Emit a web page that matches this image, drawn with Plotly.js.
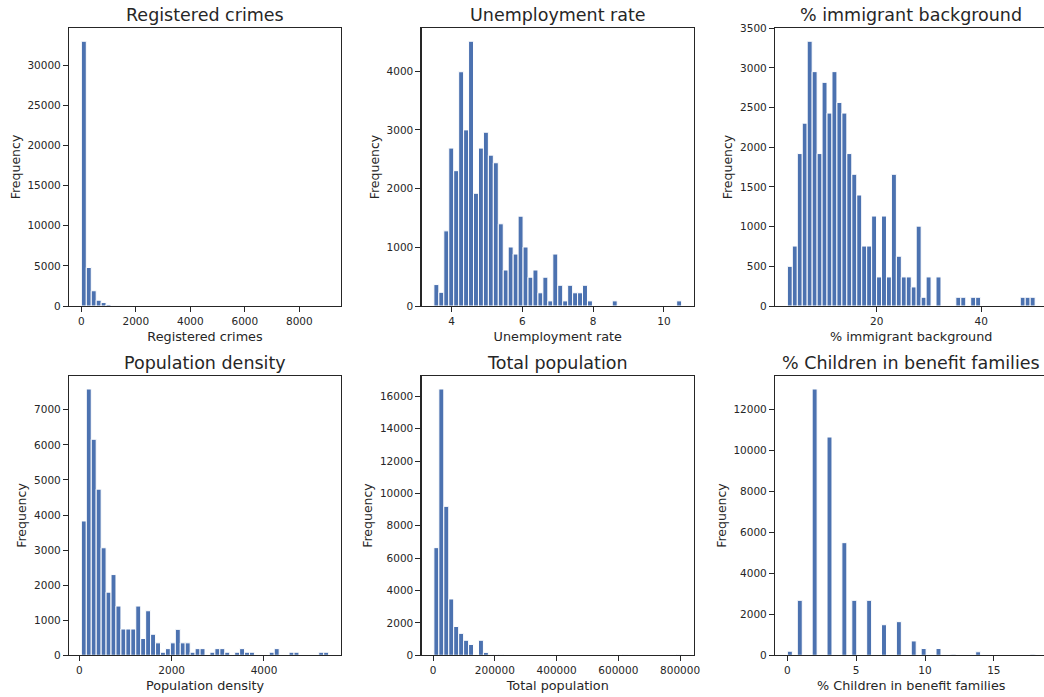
<!DOCTYPE html>
<html>
<head>
<meta charset="utf-8">
<script src="https://cdn.plot.ly/plotly-3.0.1.min.js"></script>
<style>
  html, body { margin: 0; padding: 0; overflow: hidden; background: #ffffff; }
  #chart { width: 1048px; height: 697px; }
</style>
</head>
<body>
<div id="chart"></div>
<script>
// ---------- DATA (50-bin histograms) ----------
const titles = ["Registered crimes", "Unemployment rate", "% immigrant background",
                "Population density", "Total population", "% Children in benefit families"];

// bin range [min, max] of each variable
const crimesRange = [0, 9075];
const unempRange = [3.5, 10.5];
const immigRange = [2.9, 50.3];
const densityRange = [45, 5400];
const popRange = [2500, 805000];
const childRange = [0, 18];

const crimesCounts = [33000, 4800, 1900, 720, 430, 180, 40, 15, 8, 0,
                      0, 5, 0, 0, 0, 0, 0, 0, 0, 0,
                      0, 0, 0, 0, 0, 0, 0, 0, 0, 0,
                      0, 0, 0, 0, 0, 0, 0, 0, 0, 0,
                      0, 0, 0, 0, 0, 0, 0, 0, 0, 1];

const unempCounts = [365, 233, 1280, 2690, 2305, 3990, 3000, 4510, 1920, 2690,
                     2960, 2570, 2440, 1400, 613, 1005, 885, 1530, 1005, 490,
                     613, 225, 490, 87, 885, 353, 87, 353, 225, 225,
                     353, 87, 0, 0, 0, 0, 87, 0, 0, 0,
                     0, 0, 0, 0, 0, 0, 0, 0, 0, 87];

const immigCounts = [500, 755, 1920, 2303, 3335, 2952, 1920, 2817, 2430, 2952,
                     2564, 2430, 1920, 1659, 1398, 755, 755, 1133, 366, 1133,
                     366, 1659, 627, 366, 366, 240, 1006, 110, 366, 0,
                     366, 0, 0, 0, 110, 110, 0, 110, 110, 0,
                     0, 0, 0, 0, 0, 0, 0, 110, 110, 110];

const densityCounts = [3830, 7593, 6160, 4737, 3066, 1800, 2302, 1404, 750, 750,
                       750, 1404, 480, 1270, 600, 355, 87, 190, 355, 740,
                       355, 355, 87, 190, 190, 0, 87, 190, 190, 87,
                       0, 87, 190, 87, 87, 0, 0, 0, 87, 190,
                       0, 0, 87, 87, 0, 0, 0, 0, 87, 87];

const popCounts = [6650, 16450, 9200, 3480, 1780, 1355, 930, 670, 0, 930,
                   180, 45, 45, 45, 0, 0, 0, 0, 0, 0,
                   0, 0, 0, 0, 0, 0, 0, 0, 0, 0,
                   0, 0, 0, 0, 0, 0, 0, 0, 45, 0,
                   0, 0, 0, 0, 0, 0, 0, 0, 0, 45];

const childCounts = [200, 0, 2680, 0, 0, 12980, 0, 0, 10640, 0,
                     0, 5490, 0, 2680, 0, 0, 2680, 0, 0, 1490,
                     0, 0, 1640, 0, 0, 700, 0, 330, 0, 0,
                     330, 0, 0, 50, 0, 0, 0, 0, 170, 0,
                     0, 0, 0, 0, 0, 0, 0, 0, 0, 50];

// tick labels
const crimesXTicks = [0, 2000, 4000, 6000, 8000];
const crimesYTicks = [0, 5000, 10000, 15000, 20000, 25000, 30000];
const unempXTicks = [4, 6, 8, 10];
const unempYTicks = [0, 1000, 2000, 3000, 4000];
const immigXTicks = [20, 40];
const immigYTicks = [0, 500, 1000, 1500, 2000, 2500, 3000, 3500];
const densityXTicks = [0, 2000, 4000];
const densityYTicks = [0, 1000, 2000, 3000, 4000, 5000, 6000, 7000];
const popXTicks = [0, 200000, 400000, 600000, 800000];
const popYTicks = [0, 2000, 4000, 6000, 8000, 10000, 12000, 14000, 16000];
const childXTicks = [0, 5, 10, 15];
const childYTicks = [0, 2000, 4000, 6000, 8000, 10000, 12000];

// ---------- BUILD ----------
const W = 1048, H = 697;
const panels = [
  {range: crimesRange, counts: crimesCounts, xt: crimesXTicks, yt: crimesYTicks},
  {range: unempRange, counts: unempCounts, xt: unempXTicks, yt: unempYTicks},
  {range: immigRange, counts: immigCounts, xt: immigXTicks, yt: immigYTicks},
  {range: densityRange, counts: densityCounts, xt: densityXTicks, yt: densityYTicks},
  {range: popRange, counts: popCounts, xt: popXTicks, yt: popYTicks},
  {range: childRange, counts: childCounts, xt: childXTicks, yt: childYTicks}
];

// pixel boxes of the axes [left, right] and [top, bottom]
const colPx = [[69, 341], [421.5, 694], [775, 1047.5]];
const rowPx = [[28, 306], [375.7, 655.3]];

const ink = '#262626';
const font = 'DejaVu Sans, Liberation Sans, sans-serif';
const traces = [];
const layout = {
  width: W, height: H,
  margin: {l: 0, r: 0, t: 0, b: 0},
  paper_bgcolor: '#ffffff', plot_bgcolor: '#ffffff',
  showlegend: false,
  bargap: 0,
  font: {family: font, color: ink},
  annotations: []
};

panels.forEach((p, k) => {
  const n = p.counts.length;
  const bw = (p.range[1] - p.range[0]) / n;
  const centers = p.counts.map((_, i) => p.range[0] + bw * (i + 0.5));
  const sfx = k === 0 ? '' : String(k + 1);
  traces.push({
    type: 'bar', x: centers, y: p.counts, width: bw,
    xaxis: 'x' + sfx, yaxis: 'y' + sfx,
    marker: {color: '#4C72B0', line: {color: '#ffffff', width: 1}},
    hoverinfo: 'x+y'
  });
  const col = colPx[k % 3], row = rowPx[Math.floor(k / 3)];
  const R = p.range[1] - p.range[0];
  const ymax = Math.max(...p.counts) * 1.05;
  const axCommon = {
    showline: true, mirror: true, linecolor: ink, linewidth: 1.1,
    ticks: 'outside', ticklen: 5, tickwidth: 1, tickcolor: ink,
    showgrid: false, zeroline: false,
    tickfont: {family: font, size: 10.5, color: ink}
  };
  layout['xaxis' + sfx] = Object.assign({}, axCommon, {
    domain: [col[0] / W, col[1] / W],
    anchor: 'y' + sfx,
    range: [p.range[0] - 0.05 * R, p.range[1] + 0.05 * R],
    tickvals: p.xt, ticktext: p.xt.map(String),
    title: {text: titles[k], font: {family: font, size: 12.8, color: ink}, standoff: 6}
  });
  layout['yaxis' + sfx] = Object.assign({}, axCommon, {
    domain: [1 - row[1] / H, 1 - row[0] / H],
    anchor: 'x' + sfx,
    range: [0, ymax],
    tickvals: p.yt, ticktext: p.yt.map(String),
    title: {text: 'Frequency', font: {family: font, size: 12.5, color: ink}, standoff: 4}
  });
  layout.annotations.push({
    text: titles[k], xref: 'paper', yref: 'paper',
    x: (col[0] + col[1]) / 2 / W, y: 1 - row[0] / H,
    xanchor: 'center', yanchor: 'bottom', yshift: 1, showarrow: false,
    font: {family: font, size: 17.5, color: ink}
  });
});

Plotly.newPlot('chart', traces, layout, {staticPlot: true, displayModeBar: false});
</script>
</body>
</html>
